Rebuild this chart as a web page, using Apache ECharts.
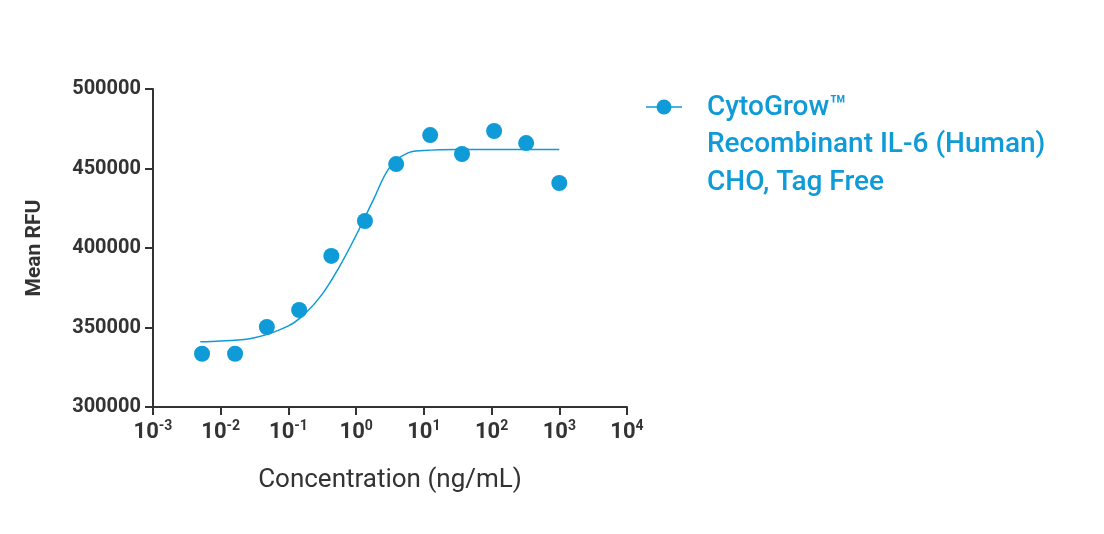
<!DOCTYPE html><html><head><meta charset="utf-8"><script src="https://cdn.jsdelivr.net/npm/echarts@6/dist/echarts.min.js"></script></head><body style="margin:0"><div id="c" style="width:1104px;height:534px"></div><script>
const pointX=[0.0053,0.0163,0.048,0.144,0.43,1.35,3.9,12.4,36.6,109,324,1000];
const pointY=[333500,333500,350300,361000,395000,417000,452800,471000,459100,473600,466000,440900];
const curveX=[0.005,0.01,0.0316,0.1,0.178,0.316,0.562,1,1.78,3.16,5.62,10,31.6,100,1000];
const curveY=[341000,341500,343500,351000,359000,371000,388000,408000,430000,451000,459500,461300,462000,462000,462000];
const yTicks=[300000,350000,400000,450000,500000];
const seriesName='CytoGrow™\nRecombinant IL-6 (Human)\nCHO, Tag Free';
const C='#0e9bd7';
const ch=echarts.init(document.getElementById('c'));
ch.setOption({
animation:false,
grid:{left:153,right:477,top:89,bottom:127},
xAxis:{type:'log',logBase:10,min:0.001,max:10000,name:'Concentration (ng/mL)',nameLocation:'middle',nameGap:60,
nameTextStyle:{fontSize:26,color:'#333',fontFamily:'Roboto'},
axisLine:{lineStyle:{color:'#333',width:2}},axisTick:{show:true,length:8,lineStyle:{width:2,color:'#333'}},minorTick:{show:false},splitLine:{show:false},
axisLabel:{margin:12,fontFamily:'Roboto',fontWeight:'bold',color:'#333',fontSize:22,
formatter:v=>'10{s|'+Math.round(Math.log10(v))+'}',rich:{s:{fontSize:14,fontWeight:'bold',color:'#333',padding:[0,0,12,0]}}}},
yAxis:{type:'value',min:yTicks[0],max:yTicks[4],interval:50000,name:'Mean RFU',nameLocation:'middle',nameGap:108,
nameTextStyle:{fontSize:21,fontWeight:'bold',color:'#333',fontFamily:'Roboto'},
axisLine:{show:true,lineStyle:{color:'#333',width:2}},axisTick:{show:true,length:8,lineStyle:{width:2,color:'#333'}},splitLine:{show:false},
axisLabel:{margin:12,fontFamily:'Roboto',fontWeight:'bold',color:'#333',fontSize:20,formatter:v=>String(v)}},
series:[
{type:'line',data:curveX.map((x,i)=>[x,curveY[i]]),smooth:0.4,showSymbol:false,lineStyle:{color:C,width:1.5},silent:true},
{type:'scatter',name:seriesName,data:pointX.map((x,i)=>[x,pointY[i]]),symbolSize:16,itemStyle:{color:C,opacity:1}}
],
graphic:[
{type:'line',shape:{x1:646,y1:107,x2:682,y2:107},style:{stroke:C,lineWidth:1.5}},
{type:'circle',shape:{cx:664,cy:107,r:7.5},style:{fill:C}},
{type:'text',left:707,top:89,style:{text:seriesName,fill:C,fontSize:28,fontWeight:500,fontFamily:'Roboto',lineHeight:37.5}}
]});
</script></body></html>
